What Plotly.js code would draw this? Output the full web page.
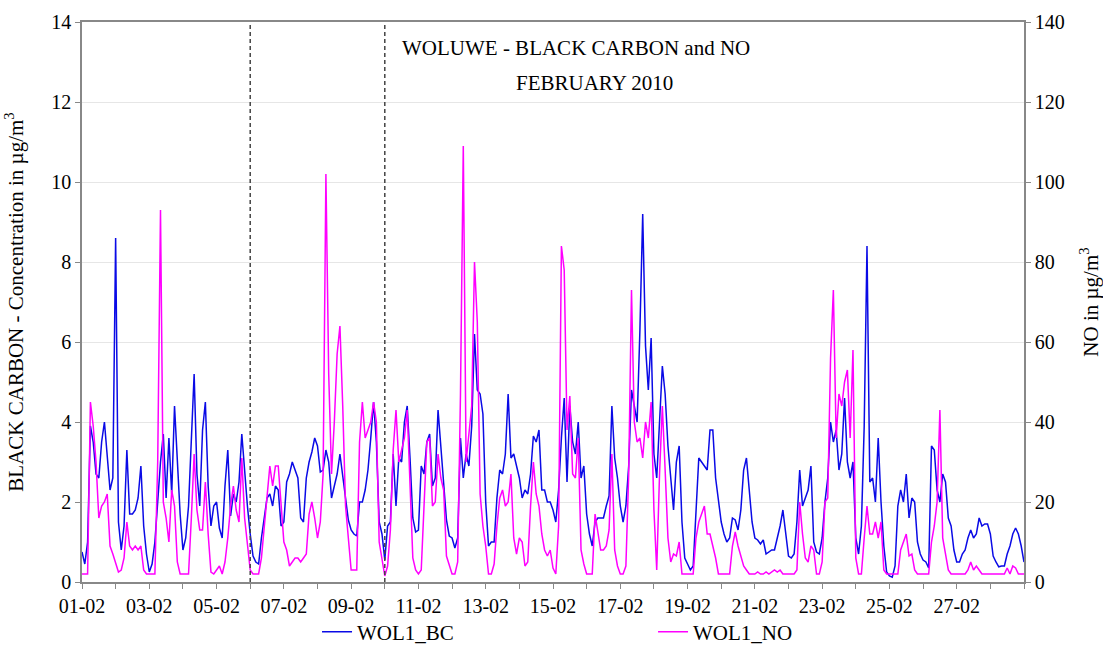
<!DOCTYPE html>
<html>
<head>
<meta charset="utf-8">
<script src="https://cdn.plot.ly/plotly-3.0.1.min.js"></script>
<style>html,body{margin:0;padding:0;background:#fff;}#chart{width:1103px;height:657px;}</style>
</head>
<body>
<div id="chart"></div>
<script>
// 2-hourly readings, starting 01-02-2010 00:00
const startDate = Date.UTC(2010, 1, 1);
const stepHours = 2;

const seriesNames = ['WOL1_BC', 'WOL1_NO'];
const tickLabels = ['01-02','03-02','05-02','07-02','09-02','11-02','13-02','15-02','17-02','19-02','21-02','23-02','25-02','27-02'];
const tickDays = [1,3,5,7,9,11,13,15,17,19,21,23,25,27];
const markerDays = [6, 10];

// Black carbon (µg/m³)
const bcValues = [
0.75,0.45,1.0,3.9,3.5,2.7,2.6,3.5,4.0,3.2,2.3,2.6,8.6,1.5,0.8,1.4,3.3,1.7,1.7,1.8,2.1,2.9,1.4,0.7,
0.25,0.45,1.0,2.0,3.0,3.7,2.1,3.6,2.2,4.4,3.0,1.7,0.8,1.1,1.9,3.6,5.2,2.7,1.9,3.8,4.5,2.4,1.4,1.9,
2.0,1.35,1.1,2.4,3.3,1.65,2.2,2.0,2.5,3.7,2.7,1.9,1.2,0.65,0.5,0.45,1.1,1.6,2.1,2.2,1.9,2.4,2.3,1.4,
1.5,2.5,2.7,3.0,2.8,2.6,1.6,1.5,2.6,3.0,3.25,3.6,3.4,2.75,2.8,3.3,3.0,2.1,2.4,2.7,3.2,2.7,2.1,1.55,
1.3,1.2,1.15,2.0,2.0,2.3,2.8,3.6,4.5,3.5,1.5,1.2,0.55,1.4,1.5,3.2,1.9,3.1,3.0,4.0,4.4,3.1,1.6,1.25,
1.3,2.9,2.7,3.5,3.7,2.4,2.6,4.3,3.3,2.5,1.55,1.15,1.1,0.85,1.1,3.6,2.6,3.2,2.9,3.9,6.2,4.8,4.7,4.2,
2.0,0.9,1.0,1.0,2.1,2.8,2.7,3.2,4.7,3.1,3.2,2.9,2.6,2.1,2.3,2.2,2.7,3.65,3.5,3.8,2.3,2.3,2.0,2.0,
1.8,1.5,2.3,3.6,4.6,2.5,4.4,3.5,3.2,4.0,2.6,2.9,1.7,1.2,0.9,1.5,1.6,1.6,1.6,1.9,2.15,4.4,3.1,2.6,
1.9,1.5,1.9,2.9,4.8,4.4,4.0,6.3,9.2,5.9,4.8,6.1,3.2,2.6,4.0,5.4,4.7,3.4,2.6,1.8,3.0,3.4,1.5,0.6,
0.45,0.3,0.4,1.9,3.1,3.0,2.9,2.8,3.8,3.8,2.6,2.1,1.5,1.2,1.0,1.1,1.6,1.55,1.3,1.8,2.8,3.1,2.2,1.5,
1.1,1.05,0.95,1.05,0.7,0.75,0.8,0.8,1.1,1.4,1.8,1.2,0.65,0.6,0.7,1.5,2.8,1.9,2.1,2.3,2.9,1.0,0.75,0.7,
1.1,2.0,2.6,4.0,3.5,3.8,2.8,3.2,4.6,3.0,2.6,3.0,1.1,0.7,1.4,3.9,8.4,2.5,2.6,2.0,3.6,2.0,0.9,0.25,
0.15,0.12,0.4,1.9,2.3,2.0,2.7,1.6,2.1,2.0,1.0,0.7,0.55,0.5,0.35,3.4,3.3,2.3,2.0,2.7,2.5,1.6,1.4,0.8,
0.5,0.5,0.7,0.8,1.1,1.3,1.1,1.2,1.6,1.4,1.45,1.45,1.2,0.65,0.5,0.38,0.4,0.4,0.7,0.9,1.2,1.35,1.2,0.9,
0.5
];

// NO (µg/m³)
const noValues = [
2,2,2,45,39,30,16,19,20,22,9,7,5,2.5,3,6,15,9,8,9,8,9,3,2,
2,2,2,30,93,20,16,10,23,19,5,2,2,2,2,16,32,18,13,13,25,12,2.5,2,
3,4,2,5,11,19,24,18,15,31,16,10,3,2,2,2,6,14,20,29,24,29,29,19,
10,8,4,5,6,6,5,6,7,17,20,16,11,15,27,102,52,27,40,57,64,44,19,11,
3,3,3,35,45,36,38,40,45,40,10,6,1.5,4,13,33,43,30,33,36,43,23,6,3,
2,3,19,35,36,19,20,32,26,23,6.5,4,2,2,5,47,109,30,38,44,80,65,22,14,
9,2,2,4.5,14,21,23,19,20,27,11,7,11,10,4,5,19,30,22,19,12,8,6.5,8,
3.5,2,14,84,78,38,46.5,27,26,36,8,4.5,2,2,2,17,13,8,8,9,13,32,8,4,
2,2,4,27,73,40,35,36,31,40,36,45,18,3,27,44,28,11,5,7,6.5,10,2,2,
2,2,2,11,15,17,19,12,12,9,6,2,2,2,2,2,9,12.5,9,6.5,4,3,2,2,
2,2.5,2,2,2.5,2,2.5,3,2.5,3,2,2,2,2,2,3,20,12,6,5,9,8,2,2,
5,20,21,56,73,36,47,44,50,53,36,58,6,2,2,11,19,12,12,15,11,15,3,2,
2,2,2,2,8,10,12,6.5,7,3,2,2,2,2,2,10,14,20,43,11,7,3,2,2,
2,2,2,2,3,5,3,4,3,2,2,2,2,2,2,2,2,2,3.5,2,4,3.5,2,2,
2
];

const times = bcValues.map((_, i) => startDate + i * stepHours * 3600 * 1000);
const tickVals = tickDays.map(d => Date.UTC(2010, 1, d));

const FONT = 'Liberation Serif, Times New Roman, serif';
const TICKSIZE = 20;
const TEXTSIZE = 21;

const traces = [
  {
    x: times, y: bcValues, name: seriesNames[0], type: 'scatter', mode: 'lines',
    line: {color: '#0a0ae6', width: 1.5}, yaxis: 'y'
  },
  {
    x: times, y: noValues, name: seriesNames[1], type: 'scatter', mode: 'lines',
    line: {color: '#ff00ff', width: 1.5}, yaxis: 'y2'
  }
];

const layout = {
  width: 1103, height: 657,
  margin: {l: 82, r: 79, t: 22, b: 75, autoexpand: false},
  paper_bgcolor: '#ffffff', plot_bgcolor: '#ffffff',
  font: {family: FONT, size: TICKSIZE, color: '#000'},
  showlegend: true,
  legend: {
    orientation: 'h', x: 0.2495, xanchor: 'left',
    yref: 'container', y: 1 - 632 / 657, yanchor: 'middle',
    font: {family: FONT, size: TEXTSIZE, color: '#000'}, entrywidth: 291, bgcolor: 'rgba(0,0,0,0)'
  },
  xaxis: {
    type: 'date',
    range: [startDate, Date.UTC(2010, 2, 1)],
    tickmode: 'array', tickvals: tickVals, ticktext: tickLabels,
    ticks: 'outside', ticklen: 5, tickcolor: '#888', tickwidth: 1,
    minor: {tickmode: 'linear', dtick: 86400000, tick0: startDate, ticks: 'outside', ticklen: 5, tickcolor: '#888', showgrid: false},
    showline: true, linecolor: '#888', linewidth: 1.5, mirror: true,
    showgrid: false, zeroline: false,
    tickfont: {family: FONT, size: TICKSIZE, color: '#000'}
  },
  yaxis: {
    range: [0, 14], dtick: 2, ticks: 'outside', ticklen: 5, tickcolor: '#888',
    showline: true, linecolor: '#888', linewidth: 1.5,
    showgrid: true, gridcolor: '#e6e6e6', gridwidth: 1, zeroline: false,
    tickfont: {family: FONT, size: TICKSIZE, color: '#000'},
    title: {text: 'BLACK CARBON - Concentration in µg/m<sup>3</sup>', font: {family: FONT, size: TEXTSIZE, color: '#000'}, standoff: 22}
  },
  yaxis2: {
    overlaying: 'y', side: 'right', range: [0, 140], dtick: 20,
    ticks: 'outside', ticklen: 5, tickcolor: '#888',
    showline: true, linecolor: '#888', linewidth: 1.5,
    showgrid: false, zeroline: false,
    tickfont: {family: FONT, size: TICKSIZE, color: '#000'},
    title: {text: 'NO in µg/m<sup>3</sup>', font: {family: FONT, size: TEXTSIZE, color: '#000'}, standoff: 20}
  },
  shapes: markerDays.map(d => ({
    type: 'line', xref: 'x', yref: 'paper', x0: Date.UTC(2010, 1, d), x1: Date.UTC(2010, 1, d), y0: 0, y1: 1,
    line: {color: '#444', width: 1.5, dash: '4px,3px'}
  })),
  annotations: [
    {text: 'WOLUWE - BLACK CARBON and NO', xref: 'paper', yref: 'paper',
     x: (576 - 82) / 942, y: 1 - (48 - 22) / 560, xanchor: 'center', yanchor: 'middle',
     showarrow: false, font: {family: FONT, size: TEXTSIZE, color: '#000'}},
    {text: 'FEBRUARY 2010', xref: 'paper', yref: 'paper',
     x: (594 - 82) / 942, y: 1 - (83 - 22) / 560, xanchor: 'center', yanchor: 'middle',
     showarrow: false, font: {family: FONT, size: TEXTSIZE, color: '#000'}}
  ]
};

Plotly.newPlot('chart', traces, layout, {displayModeBar: false, responsive: false});
</script>
</body>
</html>
